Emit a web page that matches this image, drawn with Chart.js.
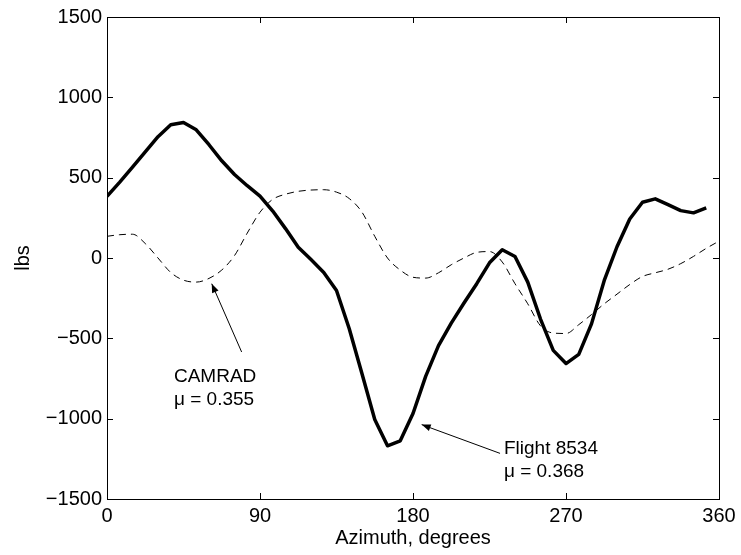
<!DOCTYPE html>
<html>
<head>
<meta charset="utf-8">
<script src="https://cdn.jsdelivr.net/npm/chart.js@4/dist/chart.umd.min.js"></script>
<style>
  html, body { margin: 0; padding: 0; background: #fff; }
  #wrap { width: 741px; height: 555px; }
</style>
</head>
<body>
<div id="wrap"><canvas id="loadChart"></canvas></div>
<script>
// Flight 8534 measured load, sampled every 7.5 deg of azimuth
const flightAzimuth = [0, 7.5, 15, 22.5, 30, 37.5, 45, 52.5, 60, 67.5, 75, 82.5,
  90, 97.5, 105, 112.5, 120, 127.5, 135, 142.5, 150, 157.5, 165, 172.5,
  180, 187.5, 195, 202.5, 210, 217.5, 225, 232.5, 240, 247.5, 255, 262.5,
  270, 277.5, 285, 292.5, 300, 307.5, 315, 322.5, 330, 337.5, 345, 352.5];
const flightLoad = [384, 472, 565, 660, 755, 829, 843, 798, 705, 605, 520, 450,
  385, 292, 183, 67, -10, -90, -202, -440, -720, -1005, -1169, -1138,
  -968, -735, -545, -405, -280, -160, -30, 51, 9, -150, -380, -575,
  -657, -600, -410, -140, 70, 243, 347, 368, 332, 295, 281, 312];

// CAMRAD prediction
const camradAzimuth = [0, 7.5, 15, 22.5, 30, 37.5, 45, 52.5, 60, 67.5, 75, 82.5,
  90, 97.5, 105, 112.5, 120, 127.5, 135, 142.5, 150, 157.5, 165, 172.5,
  180, 187.5, 195, 202.5, 210, 217.5, 225, 232.5, 240, 247.5, 255, 262.5,
  270, 277.5, 285, 292.5, 300, 307.5, 315, 322.5, 330, 337.5, 345, 352.5, 360];
const camradLoad = [135, 145, 148, 90, 0, -90, -138, -150, -127, -75, 15, 155,
  285, 365, 397, 415, 423, 425, 410, 370, 285, 135, 0, -75,
  -120, -125, -92, -42, 0, 35, 40, -25, -160, -285, -422, -467,
  -470, -415, -352, -285, -225, -165, -115, -92, -70, -35, 10, 60, 105];

const xTicks = [0, 90, 180, 270, 360];
const yTicks = [-1500, -1000, -500, 0, 500, 1000, 1500];

// callouts: [text lines], text anchor (deg, lbs), arrow tail, arrow tip
const camradNote = { lines: ['CAMRAD', 'μ = 0.355'], at: [39.4, -740], tail: [79.2, -585], tip: [61.6, -160] };
const flightNote = { lines: ['Flight 8534', 'μ = 0.368'], at: [233.5, -1190], tail: [231.2, -1216], tip: [185.1, -1037] };

const FONT = '"Liberation Sans", Arial, Helvetica, sans-serif';

function toPoints(xs, ys) {
  return xs.map((x, i) => ({ x: x, y: ys[i] }));
}

// frame with inward ticks on all four sides, MATLAB style
const framePlugin = {
  id: 'frame',
  afterDatasetsDraw(chart) {
    const { ctx, chartArea: a, scales } = chart;
    const len = 6;
    ctx.save();
    ctx.strokeStyle = '#000';
    ctx.lineWidth = 1;
    ctx.strokeRect(a.left + 0.5, a.top + 0.5, a.right - a.left, a.bottom - a.top);
    ctx.beginPath();
    xTicks.forEach(v => {
      const px = Math.round(scales.x.getPixelForValue(v)) + 0.5;
      ctx.moveTo(px, a.bottom); ctx.lineTo(px, a.bottom - len);
      ctx.moveTo(px, a.top); ctx.lineTo(px, a.top + len);
    });
    yTicks.forEach(v => {
      const py = Math.round(scales.y.getPixelForValue(v)) + 0.5;
      ctx.moveTo(a.left, py); ctx.lineTo(a.left + len, py);
      ctx.moveTo(a.right, py); ctx.lineTo(a.right - len, py);
    });
    ctx.stroke();
    ctx.restore();
  }
};

function drawNote(chart, note) {
  const { ctx, scales } = chart;
  const px = v => [scales.x.getPixelForValue(v[0]), scales.y.getPixelForValue(v[1])];
  const [tx, ty] = px(note.tail);
  const [hx, hy] = px(note.tip);
  ctx.save();
  ctx.strokeStyle = '#000';
  ctx.fillStyle = '#000';
  ctx.lineWidth = 1;
  ctx.beginPath();
  ctx.moveTo(tx, ty);
  ctx.lineTo(hx, hy);
  ctx.stroke();
  // arrowhead
  const ang = Math.atan2(hy - ty, hx - tx);
  const hl = 9, hw = 3.5;
  ctx.beginPath();
  ctx.moveTo(hx, hy);
  ctx.lineTo(hx - hl * Math.cos(ang) + hw * Math.sin(ang), hy - hl * Math.sin(ang) - hw * Math.cos(ang));
  ctx.lineTo(hx - hl * Math.cos(ang) - hw * Math.sin(ang), hy - hl * Math.sin(ang) + hw * Math.cos(ang));
  ctx.closePath();
  ctx.fill();
  // label
  const [lx, ly] = px(note.at);
  ctx.font = '19px ' + FONT;
  ctx.textAlign = 'left';
  ctx.textBaseline = 'middle';
  note.lines.forEach((t, i) => ctx.fillText(t, lx, ly + i * 23));
  ctx.restore();
}

const notesPlugin = {
  id: 'notes',
  afterDraw(chart) {
    drawNote(chart, camradNote);
    drawNote(chart, flightNote);
  }
};

new Chart(document.getElementById('loadChart'), {
  type: 'line',
  data: {
    datasets: [
      {
        label: 'CAMRAD',
        data: toPoints(camradAzimuth, camradLoad),
        borderColor: '#000',
        borderWidth: 1,
        borderDash: [7, 5],
        pointRadius: 0,
        cubicInterpolationMode: 'monotone',
        fill: false
      },
      {
        label: 'Flight 8534',
        data: toPoints(flightAzimuth, flightLoad),
        borderColor: '#000',
        borderWidth: 3.5,
        pointRadius: 0,
        tension: 0,
        borderJoinStyle: 'round',
        fill: false
      }
    ]
  },
  options: {
    responsive: true,
    maintainAspectRatio: false,
    animation: false,
    devicePixelRatio: 1,
    layout: { padding: { top: 16, right: 22, left: 0, bottom: 0 } },
    plugins: {
      legend: { display: false },
      tooltip: { enabled: false }
    },
    scales: {
      x: {
        type: 'linear',
        min: 0,
        max: 360,
        afterBuildTicks: s => { s.ticks = xTicks.map(v => ({ value: v })); },
        afterFit: s => { s.height = 56; },
        ticks: {
          color: '#000',
          padding: 5,
          autoSkip: false,
          maxRotation: 0,
          font: { family: FONT, size: 20, lineHeight: 1.2 }
        },
        grid: { display: false, drawTicks: false },
        border: { display: false },
        title: {
          display: true,
          text: 'Azimuth, degrees',
          color: '#000',
          padding: { top: 0, bottom: 5 },
          font: { family: FONT, size: 20, lineHeight: 1.2 }
        }
      },
      y: {
        min: -1500,
        max: 1500,
        afterBuildTicks: s => { s.ticks = yTicks.map(v => ({ value: v })); },
        afterFit: s => { s.width = 107; },
        ticks: {
          color: '#000',
          padding: 5,
          autoSkip: false,
          font: { family: FONT, size: 20, lineHeight: 1.2 },
          callback: v => (v < 0 ? '\u2212' + Math.abs(v) : String(v))
        },
        grid: { display: false, drawTicks: false },
        border: { display: false },
        title: {
          display: true,
          text: 'lbs',
          color: '#000',
          padding: { top: 11, bottom: 0 },
          font: { family: FONT, size: 20, lineHeight: 1.2 }
        }
      }
    }
  },
  plugins: [framePlugin, notesPlugin]
});
</script>
</body>
</html>
